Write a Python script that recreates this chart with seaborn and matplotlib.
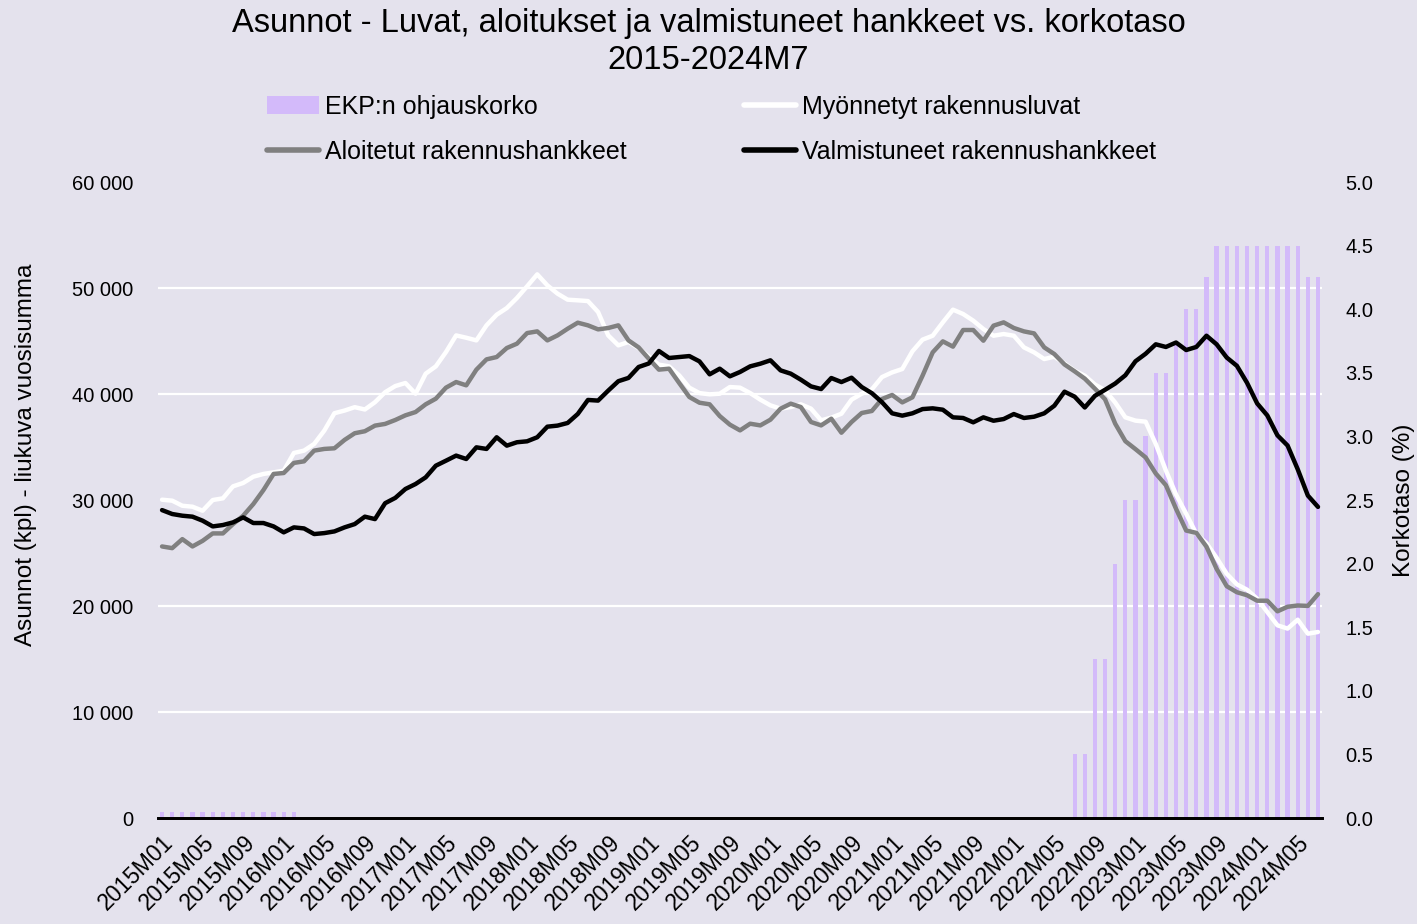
import numpy as np
import pandas as pd
import matplotlib
matplotlib.use("Agg")
import matplotlib.pyplot as plt
import seaborn as sns
from matplotlib.lines import Line2D
from matplotlib.patches import Patch
from matplotlib.ticker import FuncFormatter

# kuukaudet 2015M01 - 2024M07
years = list(range(2015, 2025))
periods = [f"{y}M{m:02d}" for y in years for m in range(1, 13)][:115]

ekp_korko = [
    0.05, 0.05, 0.05, 0.05, 0.05, 0.05, 0.05, 0.05, 0.05, 0.05, 0.05, 0.05,
    0.05, 0.05, 0.0, 0.0, 0.0, 0.0, 0.0, 0.0, 0.0, 0.0, 0.0, 0.0,
    0.0, 0.0, 0.0, 0.0, 0.0, 0.0, 0.0, 0.0, 0.0, 0.0, 0.0, 0.0,
    0.0, 0.0, 0.0, 0.0, 0.0, 0.0, 0.0, 0.0, 0.0, 0.0, 0.0, 0.0,
    0.0, 0.0, 0.0, 0.0, 0.0, 0.0, 0.0, 0.0, 0.0, 0.0, 0.0, 0.0,
    0.0, 0.0, 0.0, 0.0, 0.0, 0.0, 0.0, 0.0, 0.0, 0.0, 0.0, 0.0,
    0.0, 0.0, 0.0, 0.0, 0.0, 0.0, 0.0, 0.0, 0.0, 0.0, 0.0, 0.0,
    0.0, 0.0, 0.0, 0.0, 0.0, 0.0, 0.5, 0.5, 1.25, 1.25, 2.0, 2.5,
    2.5, 3.0, 3.5, 3.5, 3.75, 4.0, 4.0, 4.25, 4.5, 4.5, 4.5, 4.5,
    4.5, 4.5, 4.5, 4.5, 4.5, 4.25, 4.25,
]

myonnetyt = [
    30030, 29940, 29460, 29370, 28990, 30000, 30160, 31290, 31610, 32200, 32460, 32610,
    32770, 34440, 34660, 35290, 36550, 38190, 38440, 38760, 38540, 39230, 40170, 40750,
    41040, 40030, 41920, 42610, 43960, 45530, 45310, 45060, 46480, 47480, 48110, 49060,
    50160, 51290, 50250, 49470, 48900, 48840, 48770, 47740, 45530, 44590, 44910, 44330,
    43550, 42770, 42610, 41760, 40600, 40090, 39970, 40030, 40660, 40600, 40090, 39470,
    38930, 38620, 38770, 39030, 38620, 37520, 37770, 38140, 39470, 40030, 40440, 41600,
    42040, 42360, 44030, 45130, 45500, 46760, 47960, 47550, 46920, 46130, 45500, 45660,
    45500, 44400, 43930, 43300, 43520, 42890, 42200, 41730, 40900, 40350, 39200, 37800,
    37490, 37390, 35290, 32780, 30520, 28700, 26810, 25930, 24550, 23040, 22040, 21540,
    20690, 19430, 18180, 17870, 18710, 17390, 17550,
]

aloitetut = [
    25620, 25460, 26310, 25620, 26150, 26850, 26850, 27730, 28520, 29620, 30940, 32460,
    32550, 33500, 33650, 34660, 34820, 34880, 35670, 36300, 36490, 37020, 37180, 37550,
    37990, 38300, 39030, 39560, 40600, 41130, 40820, 42300, 43270, 43490, 44340, 44750,
    45750, 45910, 45060, 45530, 46160, 46730, 46480, 46100, 46230, 46480, 45060, 44400,
    43330, 42300, 42390, 41040, 39720, 39180, 39030, 37920, 37110, 36570, 37200, 37040,
    37580, 38620, 39090, 38770, 37360, 37040, 37670, 36350, 37360, 38210, 38400, 39530,
    39910, 39210, 39690, 41730, 43930, 44970, 44470, 46040, 46040, 45030, 46450, 46760,
    46230, 45910, 45720, 44400, 43770, 42790, 42140, 41450, 40500, 39500, 37200, 35550,
    34800, 34020, 32500, 31400, 29170, 27120, 26900, 25600, 23510, 21870, 21300, 21020,
    20500, 20500, 19500, 19930, 20050, 20010, 21120,
]

valmistuneet = [
    29050, 28680, 28520, 28430, 28050, 27510, 27640, 27890, 28360, 27830, 27830, 27510,
    26950, 27420, 27320, 26790, 26880, 27040, 27420, 27730, 28430, 28200, 29700, 30200,
    31040, 31510, 32140, 33240, 33710, 34190, 33870, 34970, 34820, 35920, 35130, 35450,
    35540, 35920, 36920, 37020, 37270, 38120, 39440, 39380, 40320, 41210, 41520, 42550,
    42880, 44060, 43400, 43490, 43580, 43080, 41860, 42390, 41670, 42080, 42610, 42860,
    43180, 42230, 41920, 41350, 40720, 40470, 41510, 41130, 41540, 40660, 40080, 39230,
    38180, 37960, 38180, 38580, 38650, 38520, 37800, 37740, 37330, 37800, 37480, 37640,
    38110, 37740, 37860, 38180, 38900, 40220, 39750, 38730, 39830, 40400, 40990, 41770,
    43090, 43800, 44690, 44440, 44860, 44150, 44440, 45500, 44690, 43440, 42660, 41060,
    39110, 37980, 36100, 35140, 32900, 30420, 29350,
]

df = pd.DataFrame({
    "kausi": periods,
    "ekp": ekp_korko,
    "myonnetyt": myonnetyt,
    "aloitetut": aloitetut,
    "valmistuneet": valmistuneet,
})
df["idx"] = np.arange(len(df))

bg = "#e4e2ed"
bar_col = "#d3bafa"

sns.set_style("white")
plt.rcParams["font.family"] = ["Liberation Sans", "DejaVu Sans"]
plt.rcParams["text.color"] = "black"
plt.rcParams["axes.labelcolor"] = "black"
plt.rcParams["xtick.color"] = "black"
plt.rcParams["ytick.color"] = "black"

fig = plt.figure(figsize=(14.17, 9.24), dpi=100, facecolor=bg)
ax_bar = fig.add_axes([0.1115, 0.1147, 0.8215, 0.6883])
ax_bar.set_facecolor(bg)

sns.barplot(data=df, x="kausi", y="ekp", color=bar_col, width=0.42,
            saturation=1, linewidth=0, edgecolor="none", ax=ax_bar, zorder=2)
ax_bar.set_ylim(0, 5)
ax_bar.set_xlim(-0.4, len(df) - 0.6)

ax_line = ax_bar.twinx()
sns.lineplot(data=df, x="idx", y="myonnetyt", color="white", lw=3.2, ax=ax_line)
sns.lineplot(data=df, x="idx", y="aloitetut", color="#808080", lw=3.2, ax=ax_line)
sns.lineplot(data=df, x="idx", y="valmistuneet", color="black", lw=3.2, ax=ax_line)
ax_line.set_ylim(0, 60000)
ax_line.set_xlim(-0.4, len(df) - 0.6)

# akselit: viivat vasemmalle, korko oikealle
ax_line.yaxis.tick_left()
ax_line.yaxis.set_label_position("left")
ax_bar.yaxis.tick_right()
ax_bar.yaxis.set_label_position("right")

ax_line.set_yticks(np.arange(0, 60001, 10000))
ax_line.yaxis.set_major_formatter(FuncFormatter(lambda v, p: f"{int(v):,}".replace(",", " ")))
ax_bar.set_yticks(np.arange(0, 5.01, 0.5))
ax_bar.yaxis.set_major_formatter(FuncFormatter(lambda v, p: f"{v:.1f}"))

# ruudukko oikean akselin apuasteikolla, jotta palkit jäävät sen päälle
ax_bar.set_yticks(np.arange(0, 5.01, 5 / 6), minor=True)
ax_bar.grid(False)
ax_bar.grid(which="minor", axis="y", color="white", lw=1.6)
ax_bar.set_axisbelow(True)
ax_line.grid(False)

ax_line.tick_params(axis="y", length=0, labelsize=14.5, pad=18)
ax_bar.tick_params(axis="y", which="both", length=0, labelsize=14.5, pad=17)

ticks = df["idx"].tolist()
ax_bar.set_xticks(ticks)
ax_bar.set_xticklabels([p if i % 4 == 0 else "" for i, p in enumerate(periods)],
                       rotation=45, ha="right", rotation_mode="anchor", fontsize=16.5)
ax_bar.tick_params(axis="x", length=6, width=1.3, color="black", pad=3, direction="out")
ax_line.tick_params(axis="x", length=0)

for a in (ax_bar, ax_line):
    for s in ("top", "left", "right"):
        a.spines[s].set_visible(False)
    a.spines["bottom"].set_color("black")
    a.spines["bottom"].set_linewidth(2)

ax_bar.set_xlabel("")
ax_line.set_xlabel("")
ax_line.set_ylabel("Asunnot (kpl) - liukuva vuosisumma", fontsize=17.5)
ax_line.yaxis.set_label_coords(-0.104, 0.571)
ax_bar.set_ylabel("Korkotaso (%)", fontsize=17.5)
ax_bar.yaxis.set_label_coords(1.061, 0.5)

fig.text(0.5, 0.975, "Asunnot - Luvat, aloitukset ja valmistuneet hankkeet vs. korkotaso",
         ha="center", va="center", fontsize=23.5)
fig.text(0.5, 0.934, "2015-2024M7", ha="center", va="center", fontsize=23.5)

handles = [
    Patch(facecolor=bar_col, edgecolor="none"),
    Line2D([], [], color="#808080", lw=4),
    Line2D([], [], color="white", lw=4),
    Line2D([], [], color="black", lw=4),
]
labels = ["EKP:n ohjauskorko", "Aloitetut rakennushankkeet",
          "Myönnetyt rakennusluvat", "Valmistuneet rakennushankkeet"]
fig.legend(handles, labels, loc="upper center", bbox_to_anchor=(0.502, 0.922),
           ncol=2, frameon=False, prop={"size": 18},
           handlelength=2.1, handleheight=0.7, handletextpad=0.22,
           columnspacing=4.7, labelspacing=0.85)

fig.savefig("out.png", dpi=100, facecolor=bg)
